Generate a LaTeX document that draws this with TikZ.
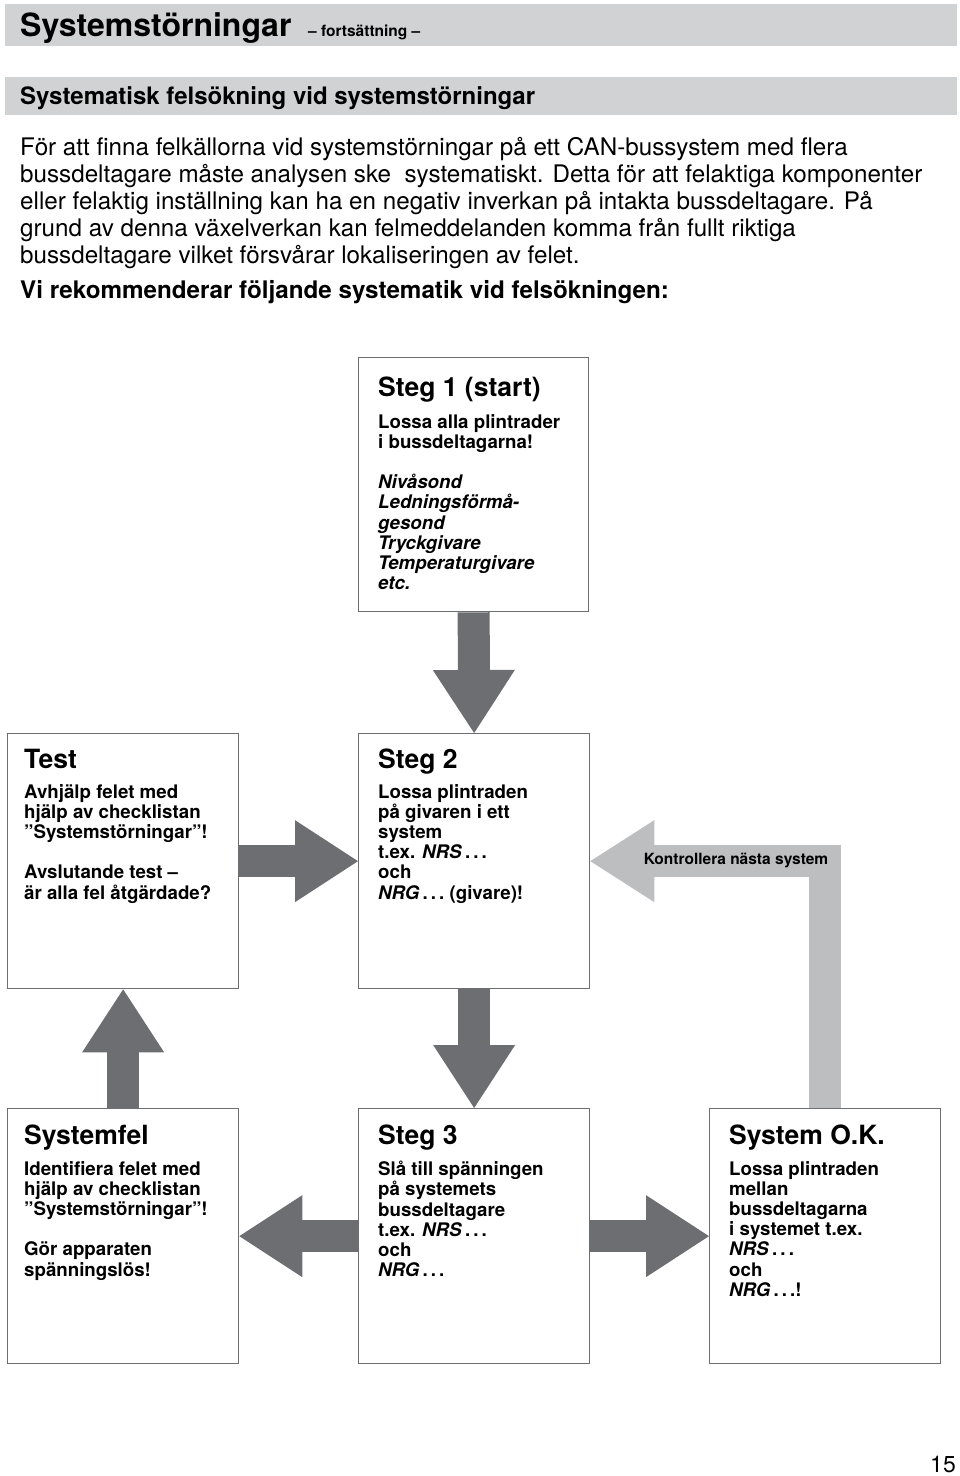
\documentclass[tikz,border=0pt]{standalone}
\usepackage{fontspec}
\setmainfont{TeX Gyre Heros}
\usetikzlibrary{arrows.meta}
\definecolor{barGray}{HTML}{D1D2D4}
\definecolor{flowDark}{HTML}{6D6E71}
\definecolor{flowLight}{HTML}{BCBEC0}
\definecolor{boxLine}{HTML}{6D6E71}

\tikzset{
	stepbox/.style={draw=boxLine, line width=1.3pt, fill=white, anchor=north west,
		minimum width=231pt, minimum height=255pt, inner sep=0pt},
	boxtitle/.style={anchor=base west, inner sep=0pt, font=\fontsize{26.5}{30}\selectfont\bfseries},
	boxtext/.style={anchor=north west, inner sep=0pt, align=left, font=\fontsize{18.7}{20.2}\selectfont\bfseries},
	flow/.style={draw=flowDark, line width=32pt,
		-{Triangle[width=82pt,length=63pt,line width=0pt]}},
	backflow/.style={draw=flowLight, line width=32pt, line join=miter,
		-{Triangle[width=82pt,length=64pt,line width=0pt]}},
}
\newcommand{\dts}{\,.\,.\,.}

\begin{document}
\begin{tikzpicture}[x=1pt,y=-1pt]
		\useasboundingbox (0,0) rectangle (960,1476);
		%%Headers
		\fill[barGray] (5,4) rectangle (957,46);
		\node[anchor=base west, inner sep=0pt, font=\fontsize{32}{36}\selectfont\bfseries] (title) at (20,36) {Systemstörningar};
		\node[anchor=base west, inner sep=0pt, font=\fontsize{15.5}{18}\selectfont\bfseries] (cont) at (308,36) {– fortsättning –};
		\fill[barGray] (5,77) rectangle (957,115);
		\node[anchor=base west, inner sep=0pt, font=\fontsize{24}{28}\selectfont\bfseries] (section) at (20,104) {Systematisk felsökning vid systemstörningar};
		
		%%Intro
		\node[anchor=north west, inner sep=0pt, align=left, font=\fontsize{24.2}{27}\selectfont] (intro) at (20,137) {För att finna felkällorna vid systemstörningar på ett CAN-bussystem med flera\\
			bussdeltagare måste analysen ske \ systematiskt. Detta för att felaktiga komponenter\\
			eller felaktig inställning kan ha en negativ inverkan på intakta bussdeltagare. På\\
			grund av denna växelverkan kan felmeddelanden komma från fullt riktiga\\
			bussdeltagare vilket försvårar lokaliseringen av felet.};
		\node[anchor=base west, inner sep=0pt, font=\fontsize{24.2}{27}\selectfont\bfseries] (advice) at (20,298) {Vi rekommenderar följande systematik vid felsökningen:};
		
		%%Boxes
		\node[stepbox, minimum width=230pt, minimum height=254pt] (s1) at (358,357) {};
		\node[stepbox] (test) at (7,733) {};
		\node[stepbox] (s2) at (358,733) {};
		\node[stepbox] (sf) at (7,1108) {};
		\node[stepbox] (s3) at (358,1108) {};
		\node[stepbox] (sok) at (709,1108) {};
		
		%%Arrows
		\draw[flow] (s1.south) -- (s2.north);
		\draw[flow] (test.east) -- (s2.west);
		\draw[flow] (s2.south) -- (s3.north);
		\draw[flow] (s3.west) -- (sf.east);
		\draw[flow] (s3.east) -- (sok.west);
		\draw[flow] (sf.north) -- (test.south);
		\draw[backflow] (sok.north) |- (s2.east);
		\node[font=\fontsize{15.5}{18}\selectfont\bfseries, inner sep=0pt] (next) at (736,861) {Kontrollera nästa system};
		
		%%Label
		\node[boxtitle] (s1title) at (378,396) {Steg 1 (start)};
		\node[boxtext] (s1text) at (378,414) {Lossa alla plintrader\\ i bussdeltagarna!\\[20.2pt]
			\textit{Nivåsond}\\ \textit{Ledningsförmå-}\\ \textit{gesond}\\ \textit{Tryckgivare}\\ \textit{Temperaturgivare}\\ \textit{etc.}};
		\node[boxtitle] (testtitle) at (24,768) {Test};
		\node[boxtext] (testtext) at (24,784) {Avhjälp felet med\\ hjälp av checklistan\\ ”Systemstörningar”!\\[20.2pt]
			Avslutande test –\\ är alla fel åtgärdade?};
		\node[boxtitle] (s2title) at (378,768) {Steg 2};
		\node[boxtext] (s2text) at (378,784) {Lossa plintraden\\ på givaren i ett\\ system\\ t.ex. \textit{NRS}\dts\\ och\\ \textit{NRG}\dts\ (givare)!};
		\node[boxtitle] (sftitle) at (24,1144) {Systemfel};
		\node[boxtext] (sftext) at (24,1161) {Identifiera felet med\\ hjälp av checklistan\\ ”Systemstörningar”!\\[20.2pt]
			Gör apparaten\\ spänningslös!};
		\node[boxtitle] (s3title) at (378,1144) {Steg 3};
		\node[boxtext] (s3text) at (378,1161) {Slå till spänningen\\ på systemets\\ bussdeltagare\\ t.ex. \textit{NRS}\dts\\ och\\ \textit{NRG}\dts};
		\node[boxtitle] (soktitle) at (729,1144) {System O.K.};
		\node[boxtext] (soktext) at (729,1161) {Lossa plintraden\\ mellan\\ bussdeltagarna\\ i systemet t.ex.\\ \textit{NRS}\dts\\ och\\ \textit{NRG}\dts!};
		
		%%Page
		\node[anchor=base east, inner sep=0pt, font=\fontsize{23}{26}\selectfont] (page) at (956,1472) {15};
\end{tikzpicture}
\end{document}
